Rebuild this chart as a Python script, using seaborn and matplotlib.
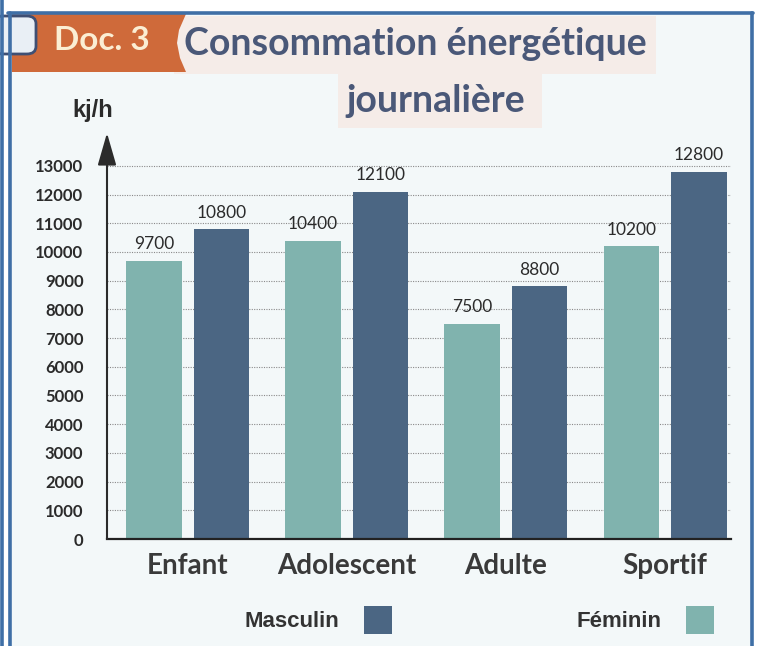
import pandas as pd
import seaborn as sns
import matplotlib.pyplot as plt
from matplotlib.patches import Rectangle, Polygon, FancyBboxPatch, Patch
from matplotlib.lines import Line2D

# data
categories = ["Enfant", "Adolescent", "Adulte", "Sportif"]
feminin = [9700, 10400, 7500, 10200]
masculin = [10800, 12100, 8800, 12800]
y_ticks = list(range(0, 14000, 1000))

W, H = 758, 646
FEM = "#80b3ae"
MASC = "#4b6683"
TITLE = "#4a5878"
INK = "#2b2b2b"


def fx(x):
    return x / W


def fy(y):
    return 1 - y / H


sns.set_theme(style="white")
plt.rcParams["font.family"] = ["Lato", "DejaVu Sans"]

fig = plt.figure(figsize=(W / 100, H / 100), dpi=100, facecolor="white")

# page background inside the blue frame
fig.add_artist(Rectangle((fx(8), 0), fx(752) - fx(8), fy(13), transform=fig.transFigure,
                         facecolor="#f3f8f9", edgecolor="none", zorder=-2))

# title boxes
fig.add_artist(Rectangle((fx(174), fy(74)), fx(656) - fx(174), fy(16) - fy(74),
                         transform=fig.transFigure, facecolor="#f5ece8", edgecolor="none", zorder=-1))
fig.add_artist(Rectangle((fx(338), fy(128)), fx(542) - fx(338), fy(74) - fy(128),
                         transform=fig.transFigure, facecolor="#f5ece8", edgecolor="none", zorder=-1))

# orange "Doc. 3" badge
badge = [(12, 14), (186, 14), (179, 30), (177, 43), (180, 58), (186, 72), (12, 72)]
fig.add_artist(Polygon([(fx(x), fy(y)) for x, y in badge], closed=True, transform=fig.transFigure,
                       facecolor="#cf6a3a", edgecolor="none", zorder=-1))
icon = FancyBboxPatch((fx(-6), fy(54)), fx(42), fy(16) - fy(54), boxstyle="round,pad=0,rounding_size=0.012",
                      transform=fig.transFigure, facecolor="#e9eff5", edgecolor="#3f4f73", lw=2, zorder=0)
fig.add_artist(icon)

# blue frame lines
frame = "#3f6fa6"
for xs, ys in [((1.5, 1.5), (0, 646)), ((10, 10), (13, 646)), ((8, 753), (13, 13)), ((752, 752), (13, 646))]:
    fig.add_artist(Line2D([fx(v) for v in xs], [fy(v) for v in ys], transform=fig.transFigure,
                          color=frame, lw=2.6, zorder=5))

fig.text(fx(102), fy(40), "Doc. 3", ha="center", va="center", fontsize=24, weight="bold", color="#fbeed3")
fig.text(fx(415), fy(44), "Consommation énergétique", ha="center", va="center",
         fontsize=27, weight="bold", color=TITLE)
fig.text(fx(436), fy(101), "journalière", ha="center", va="center", fontsize=27, weight="bold", color=TITLE)
fig.text(fx(93), fy(111), "kj/h", ha="center", va="center", fontsize=17, weight="bold",
         color=INK, family=["Liberation Sans", "DejaVu Sans"])

# chart
ax = fig.add_axes([fx(107), fy(539), (731 - 107) / W, (539 - 133) / H])
ax.patch.set_alpha(0)

df = pd.DataFrame({
    "groupe": categories * 2,
    "sexe": ["Féminin"] * len(categories) + ["Masculin"] * len(categories),
    "valeur": feminin + masculin,
})
sns.barplot(data=df, x="groupe", y="valeur", hue="sexe", hue_order=["Féminin", "Masculin"],
            palette=[FEM, MASC], width=0.848, gap=0.177, saturation=1, errorbar=None,
            legend=False, ax=ax, zorder=2, edgecolor="none")

for cont, vals in zip(ax.containers, [feminin, masculin]):
    ax.bar_label(cont, labels=[str(v) for v in vals], padding=6, fontsize=12.5, color=INK)

ax.set_xlim(-0.506, 3.414)
ax.set_ylim(0, 14146)
ax.set_yticks(y_ticks)
ax.set_yticklabels([str(t) for t in y_ticks])
ax.set_xlabel("")
ax.set_ylabel("")
ax.tick_params(axis="y", length=0, pad=17, labelsize=12, labelcolor=INK)
ax.tick_params(axis="x", length=0, pad=10, labelsize=20, labelcolor="#3a3a3a")
for lab in ax.get_xticklabels():
    lab.set_fontweight("bold")
for lab in ax.get_yticklabels():
    lab.set_fontweight("bold")

ax.yaxis.grid(True, linestyle=(0, (1, 1.2)), color="#8a8a8a", linewidth=0.8)
ax.set_axisbelow(True)
for s in ["top", "right", "left"]:
    ax.spines[s].set_visible(False)
ax.spines["bottom"].set_color("#222222")
ax.spines["bottom"].set_linewidth(1.6)

# y axis drawn as an arrow
ax.annotate("", xy=(0, 1), xytext=(0, 0), xycoords="axes fraction",
            arrowprops=dict(arrowstyle="-|>,head_length=1.25,head_width=0.36", color=INK, lw=1.5,
                            mutation_scale=16, shrinkA=0, shrinkB=0),
            annotation_clip=False)

# legend: label then square
handles = [Patch(facecolor=MASC, edgecolor="none"), Patch(facecolor=FEM, edgecolor="none")]
fig.legend(handles, ["Masculin", "Féminin"], loc="center left", bbox_to_anchor=(fx(245), fy(620)),
           bbox_transform=fig.transFigure, ncol=2, markerfirst=False, frameon=False,
           prop={"family": ["Liberation Sans", "DejaVu Sans"], "weight": "bold", "size": 16},
           labelcolor="#333333", handlelength=1.25, handleheight=1.5, handletextpad=1.1,
           columnspacing=8.3, borderpad=0, borderaxespad=0)

fig.savefig("out.png", dpi=100)
